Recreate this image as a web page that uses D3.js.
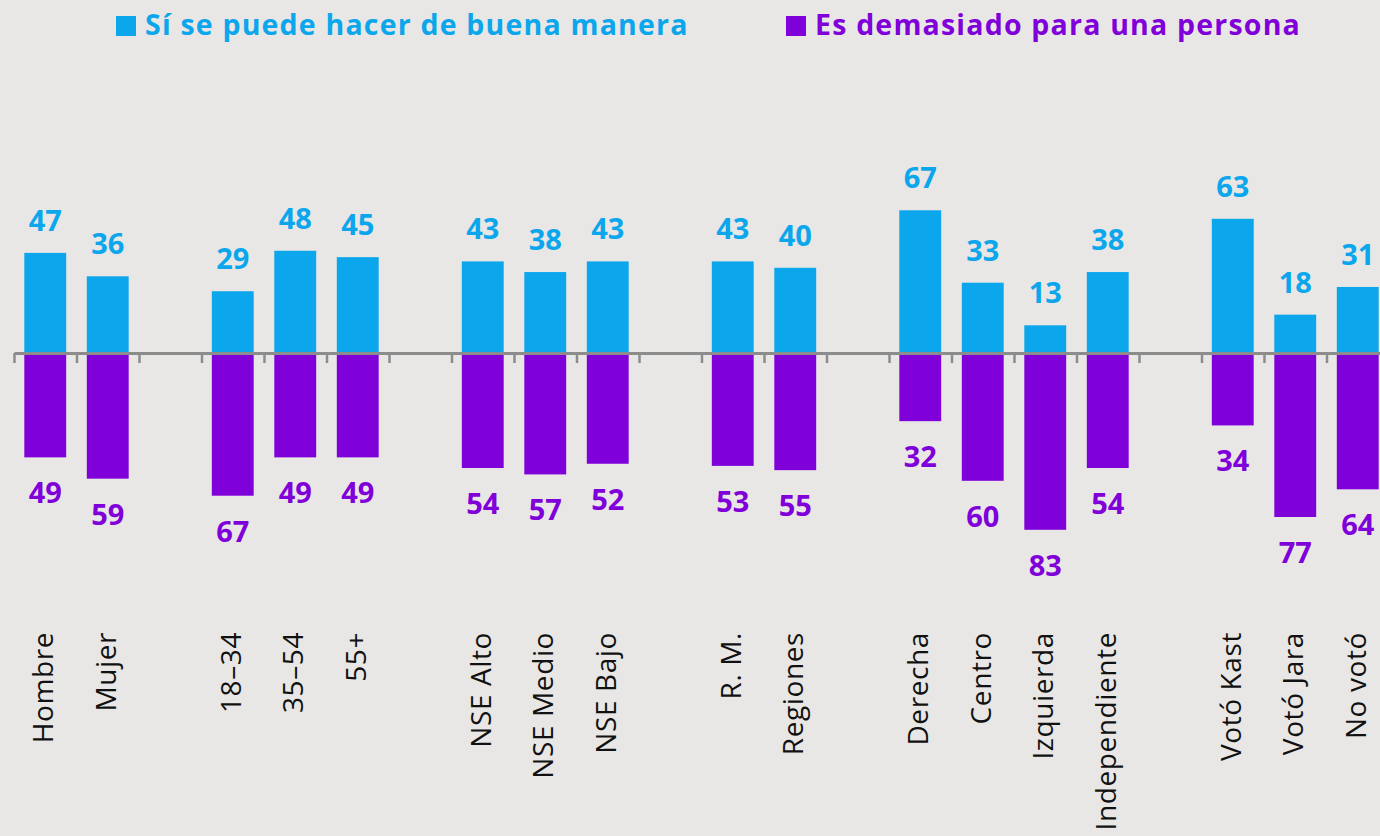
<!DOCTYPE html>
<html>
<head>
  <meta charset="utf-8">
  <title>Sí se puede hacer de buena manera / Es demasiado para una persona</title>
  <style>
    body { margin: 0; background: #e8e7e5; }
    svg { display: block; }
  </style>
</head>
<body>
  <script src="https://cdn.jsdelivr.net/npm/d3@7"></script>
  <script>
    // data
    var categories = ["Hombre", "Mujer", "18–34", "35–54", "55+",
                      "NSE Alto", "NSE Medio", "NSE Bajo", "R. M.", "Regiones",
                      "Derecha", "Centro", "Izquierda", "Independiente",
                      "Votó Kast", "Votó Jara", "No votó"];
    var groupSizes = [2, 3, 3, 2, 4, 3];
    var puede = [47, 36, 29, 48, 45, 43, 38, 43, 43, 40, 67, 33, 13, 38, 63, 18, 31];
    var demasiado = [49, 59, 67, 49, 49, 54, 57, 52, 53, 55, 32, 60, 83, 54, 34, 77, 64];
    var seriesNames = ["Sí se puede hacer de buena manera", "Es demasiado para una persona"];

    var width = 1380, height = 836;
    var blue = "#0ba6ec", purple = "#7f00d9";
    var font = "'Open Sans', 'DejaVu Sans', sans-serif";

    // slots: categories with an empty slot between groups
    var slots = [];
    var k = 0, gap = 0;
    groupSizes.forEach(function(n, gi) {
      for (var i = 0; i < n; i++) { slots.push(categories[k]); k++; }
      if (gi < groupSizes.length - 1) { slots.push("_gap" + gap); gap++; }
    });

    var data = categories.map(function(c, i) {
      return { cat: c, up: puede[i], down: demasiado[i] };
    });

    var svg = d3.select("body").append("svg")
      .attr("width", width)
      .attr("height", height);

    svg.append("rect").attr("width", width).attr("height", height).attr("fill", "#e8e7e5");

    var x = d3.scaleBand().domain(slots).range([14, 1389])
      .paddingInner(0.33).paddingOuter(0.165);
    var xEdge = d3.scaleLinear().domain([0, slots.length]).range([14, 1389]);
    var y = d3.scaleLinear().domain([-100, 100]).range([566, 140]);

    // bars
    svg.append("g").selectAll("rect").data(data).enter().append("rect")
      .attr("x", function(d) { return x(d.cat); })
      .attr("y", function(d) { return y(d.up); })
      .attr("width", x.bandwidth())
      .attr("height", function(d) { return y(0) - y(d.up); })
      .attr("fill", blue);

    svg.append("g").selectAll("rect").data(data).enter().append("rect")
      .attr("x", function(d) { return x(d.cat); })
      .attr("y", y(0))
      .attr("width", x.bandwidth())
      .attr("height", function(d) { return y(-d.down) - y(0); })
      .attr("fill", purple);

    // axis line with ticks at slot edges
    var axis = svg.append("g")
      .attr("transform", "translate(0," + y(0) + ")")
      .call(d3.axisBottom(xEdge).tickValues(d3.range(0, slots.length + 1))
        .tickFormat("").tickSize(10).tickSizeOuter(0));
    axis.select(".domain").attr("stroke", "#8c8c8c").attr("stroke-width", 3);
    axis.selectAll(".tick line").attr("stroke", "#8c8c8c").attr("stroke-width", 2.5);

    // value labels
    svg.append("g").selectAll("text").data(data).enter().append("text")
      .attr("x", function(d) { return x(d.cat) + x.bandwidth() / 2; })
      .attr("y", function(d) { return y(d.up) - 22; })
      .attr("text-anchor", "middle")
      .style("font-family", font).style("font-weight", 700).style("font-size", "29px")
      .attr("fill", blue)
      .text(function(d) { return d.up; });

    svg.append("g").selectAll("text").data(data).enter().append("text")
      .attr("x", function(d) { return x(d.cat) + x.bandwidth() / 2; })
      .attr("y", function(d) { return y(-d.down) + 46; })
      .attr("text-anchor", "middle")
      .style("font-family", font).style("font-weight", 700).style("font-size", "29px")
      .attr("fill", purple)
      .text(function(d) { return d.down; });

    // category labels, rotated
    svg.append("g").selectAll("text").data(data).enter().append("text")
      .attr("transform", function(d) {
        return "translate(" + (x(d.cat) + x.bandwidth() / 2 + 8) + ",632)rotate(-90)";
      })
      .attr("text-anchor", "end")
      .style("font-family", font).style("font-size", "28px")
      .style("letter-spacing", "0.6px")
      .attr("fill", "#111")
      .text(function(d) { return d.cat; });

    // legend
    var legend = [{ name: seriesNames[0], color: blue, x: 116 },
                  { name: seriesNames[1], color: purple, x: 786 }];
    var lg = svg.append("g").selectAll("g").data(legend).enter().append("g")
      .attr("transform", function(d) { return "translate(" + d.x + ",0)"; });
    lg.append("rect").attr("x", 0).attr("y", 16).attr("width", 20).attr("height", 20)
      .attr("fill", function(d) { return d.color; });
    lg.append("text").attr("x", 29).attr("y", 35)
      .style("font-family", font).style("font-weight", 700).style("font-size", "28.5px")
      .style("letter-spacing", "1.2px")
      .attr("fill", function(d) { return d.color; })
      .text(function(d) { return d.name; });
  </script>
</body>
</html>
